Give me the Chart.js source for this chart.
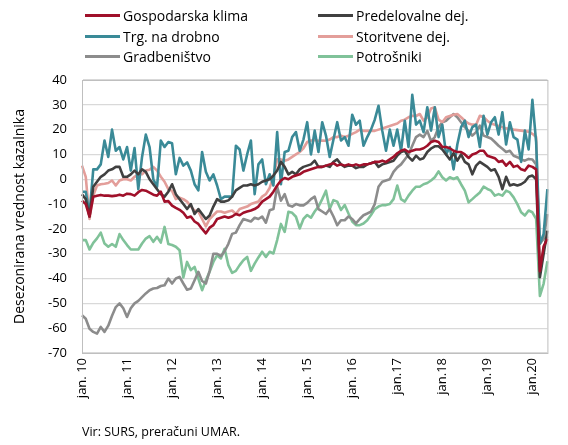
<!DOCTYPE html>
<html>
<head>
<meta charset="utf-8">
<script src="https://cdn.jsdelivr.net/npm/chart.js@4.4.0/dist/chart.umd.min.js"></script>
<style>
  body { margin: 0; background: #fff; }
  #wrap { position: relative; width: 568px; height: 445px; font-family: "Open Sans", sans-serif; }
  #legend { position: absolute; left: 0; top: 0; }
  .item { position: absolute; display: flex; align-items: center; font-size: 14px; color: #000; white-space: nowrap; }
  .swatch { width: 35px; height: 3px; margin-right: 3px; }
  #source { position: absolute; left: 82px; top: 423px; font-size: 12.5px; color: #000; }
</style>
</head>
<body>
<div id="wrap">
  <canvas id="chart" width="568" height="445"></canvas>
  <div id="legend"></div>
  <div id="source">Vir: SURS, preračuni UMAR.</div>
</div>
<script>
// Year labels shown every 12 months on the x axis
const yearLabels = ['jan. 10', 'jan. 11', 'jan. 12', 'jan. 13', 'jan. 14', 'jan. 15', 'jan. 16', 'jan.17', 'jan.18', 'jan.19', 'jan.20'];

// Monthly values, jan 2010 - may 2020
const gospodarskaKlima = [
  -8.6, -10, -15, -7, -6.6, -6.3, -6.6, -6.6, -6.8, -6.6, -6.2, -6.6,
  -5.8, -6, -6.6, -5.2, -4.3, -4.6, -5.4, -6.2, -6.6, -5, -9, -8.8,
  -10.6, -11.5, -12.3, -13.5, -15.5, -15, -17, -18, -20, -21.8, -19.5, -18.5,
  -16, -15.5, -15, -15.5, -15, -14, -14.5, -13.5, -13, -12.6, -12, -11,
  -9, -8, -7, -5, -2.5, -0.5, 0.5, 0, 1, 1.5, 2, 3,
  3.5, 4, 4.5, 5, 5, 5.5, 6, 6.5, 5.5, 6, 5.5, 6,
  5.5, 6, 5.5, 6, 6, 6.5, 7, 7, 7.5, 7, 8, 9,
  10.5, 11.5, 12, 11, 11.5, 12, 12, 12.5, 13.5, 15, 15.5, 15,
  13, 13, 12.5, 11.5, 11, 11, 10, 8.6, 10, 10.5, 11.5, 11.5,
  9.5, 9, 8.5, 7, 7.5, 5.5, 7, 5, 5.5, 4, 3.5, 5.5,
  5, 4, -37, -27, -24
];
const predelovalne = [
  -6, -8, -15, -3, -1, 1, 2, 3.5, 4, 5, 5, 1,
  1, 2, 3.5, 2, 4, 3, 0, -2, -4, -6, -7, -5,
  -2, -6, -8, -10, -12, -10, -14, -12, -14, -16, -14.6, -11,
  -8, -9, -9, -8.5, -7, -4.5, -3.5, -2.5, -2.5, -2, -2.5, -2,
  -1, -0.5, 0, 1.5, 3.5, 7, 5, 2, 3, 2, 4, 5,
  5.5, 6, 7.5, 5, 5, 5.5, 5, 7, 8, 6, 5, 5.5,
  5.5, 4.5, 5, 5, 6, 6.5, 7, 5, 6, 6.5, 7, 7.5,
  9.5, 11, 11.5, 9, 7.5, 9.5, 8, 8.5, 11, 12.4, 13.3, 13.3,
  12, 10, 8, 10.5, 7.5, 10, 7, 6, 2, 5.5, 7, 6,
  5, 3.5, 4, 1, -4, 1, -2.5, -2, -2.5, -2, -1, 1,
  1.5, 0, -39.5, -30, -20.7
];
const trgovina = [
  -5, -5, -14, 4, 4, 6, 15.6, 9, 20, 11.5, 13, 8,
  13, 3.5, 12.6, -4, 9, 18, 13, 0, -3, 15.6, 13, 15,
  14.5, 2, 8.6, 5.5, 6.8, 3.5, -2, -4.5, 11, 3, -0.5, 2,
  -2.5, -8, -7, -7, -7, 13.5, 12, 3.5, 10, 15.6, -6, 6,
  8, -2, 2, -2.5, 19, -2, 11, 11.5, 17, 19, 11.5, 16,
  23, 10, 19.6, 11, 23, 17.6, 9, 16, 23, 15.6, 17, 13.5,
  26, 22, 23.6, 13.5, 17, 20, 24, 29.6, 19.6, 11.5, 20, 13.5,
  20, 11.5, 23.6, 13, 34, 22, 23.6, 19, 29, 19.6, 29, 17,
  22, 10, 13, 4, 14, 21, 23.6, 17, 21, 22, 13, 25.6,
  18, 23, 25, 18, 27, 14, 23, 17, 16, 7, 19.6, 12,
  32, 15, -26, -22, -4
];
const storitvene = [
  5.5, 1, -16, -6.6, -2.5, -2, -1.8, -1.5, -0.5, -2.5, -0.5, 0,
  0, -0.5, 1, 2, 2, 3.5, 3.8, 5, 3.5, 1, -1, -4,
  -4.7, -8, -7.4, -8, -9, -11, -12.6, -13, -16, -19, -16, -14.5,
  -13, -13, -13.5, -13, -12.6, -14, -12, -11.5, -11, -10, -9.5, -9,
  -7, -6, -3.5, 1, 8, 8, 7.5, 8, 9, 10, 11, 12.5,
  15, 15.6, 15.8, 15.5, 15.6, 15.5, 16, 17, 17, 17.6, 17, 17.5,
  18.3, 19, 20, 19.5, 19.5, 19.5, 19.5, 20, 20.5, 21, 21.5, 22,
  22.5, 23.6, 24, 25, 25.6, 25.5, 26.3, 23.6, 25, 28.5, 29, 24,
  23, 25, 25.5, 26, 26.3, 25, 23.6, 22.5, 22, 22, 25.6, 25,
  23.6, 22.5, 22, 21.5, 21, 20.5, 20.3, 20, 19.8, 19.6, 19.4, 19.2,
  18.3, 17, -38, -28, -23
];
const gradbenistvo = [
  -54.8, -56.2, -60.2, -61.5, -62.2, -59.5, -61.5, -59, -55, -51.5, -50, -52,
  -55.5, -52, -50, -49, -47.5, -46, -44.7, -44, -43.8, -43, -42.7, -40,
  -42, -40, -39.3, -42, -44.5, -44, -40.7, -37.3, -41, -42, -37, -30,
  -30, -31, -29, -26, -22, -21.5, -18.5, -16, -16.5, -17, -15.5, -16,
  -15, -17.5, -12.5, -12, -3, -8.6, -6, -10.5, -11, -10, -10.5, -10.5,
  -9.5, -8, -7, -12, -13, -14, -12, -15, -18.5, -16.5, -16.5, -15,
  -16, -17.8, -16, -14.5, -13.8, -13, -10, -3, -1, -0.5, 0, 3,
  4.8, 6, 8, 10, 13.5, 17, 18, 17, 19.5, 15.4, 17, 21,
  23, 23.6, 25, 26.3, 25, 23, 21, 19.5, 17.6, 19, 21.6, 17.6,
  17, 16.4, 15, 13.5, 12.3, 11, 11.5, 9.5, 8.9, 8, 7.5, 8.2,
  8, 6, -26, -24, -14
];
const potrosniki = [
  -24.5, -24.5, -28.3, -25.6, -23.8, -21.5, -25.9, -27.2, -26.1, -27.2, -22.1, -24.5,
  -26.5, -28.3, -28.3, -28.3, -25.9, -23.9, -22.9, -25.2, -23.2, -25.5, -19.2, -26.1,
  -26.5, -27.2, -28.6, -39.6, -33.3, -36.6, -35.3, -40, -44.7, -40.7, -37.3, -33.3,
  -30.6, -31.9, -28, -34.6, -37.7, -36.9, -34.6, -32.6, -31.3, -36.9, -34, -31.5,
  -29.2, -31.3, -29.2, -29.9, -24.5, -18, -21.2, -13.1, -13.5, -15.1, -19.8, -16,
  -14.4, -15.5, -13, -11, -8, -4.6, -12, -8.4, -9, -12.4, -10.4, -13.8,
  -17, -18.5, -18.5, -17.8, -16.5, -14.4, -12, -11, -10.4, -10.4, -10, -8,
  -2.5, -8, -9, -6.6, -4.6, -3, -3, -2, -1.5, -0.5, 0.8, 3.2,
  0.8, -0.5, 0.8, 0.1, 0.8, -2, -4.6, -9.3, -8, -6.6, -5.3, -3,
  -3.9, -4.6, -6.6, -6, -6.6, -4.6, -5.3, -7.3, -10, -13.3, -14.6, -12.6,
  -13.3, -16, -47, -42, -33
];

const seriesNames = ['Gospodarska klima', 'Predelovalne dej.', 'Trg. na drobno', 'Storitvene dej.', 'Gradbeništvo', 'Potrošniki'];
const seriesColors = ['#a0102a', '#404040', '#3a8a97', '#e39e9a', '#8c8c8c', '#80c299'];
const seriesData = [gospodarskaKlima, predelovalne, trgovina, storitvene, gradbenistvo, potrosniki];

// one category per month, label only on januaries
const categories = gospodarskaKlima.map((v, i) => (i % 12 === 0 ? yearLabels[i / 12] : ''));

// Draw a thin frame around the plot area
const frame = {
  id: 'frame',
  afterDraw(chart) {
    const a = chart.chartArea;
    const ctx = chart.ctx;
    ctx.save();
    ctx.strokeStyle = '#bfbfbf';
    ctx.lineWidth = 1;
    ctx.strokeRect(a.left + 0.5, a.top + 0.5, a.right - a.left, a.bottom - a.top);
    ctx.restore();
  }
};

const ctx = document.getElementById('chart').getContext('2d');
new Chart(ctx, {
  type: 'line',
  data: {
    labels: categories,
    datasets: seriesNames.map((name, k) => ({
      label: name,
      data: seriesData[k],
      borderColor: seriesColors[k],
      backgroundColor: seriesColors[k],
      borderWidth: 2.6,
      pointRadius: 0,
      tension: 0,
      borderJoinStyle: 'round',
      fill: false
    }))
  },
  options: {
    responsive: false,
    animation: false,
    layout: { padding: { top: 80, right: 4, left: 0, bottom: 0 } },
    plugins: { legend: { display: false }, tooltip: { enabled: false } },
    scales: {
      x: {
        grid: { display: false, drawTicks: false },
        border: { display: true, color: '#bfbfbf' },
        ticks: {
          autoSkip: false,
          minRotation: 90,
          maxRotation: 90,
          padding: 5,
          color: '#000',
          font: { family: 'Open Sans', size: 13 },
          callback: (v, i) => categories[i]
        },
        afterFit: (scale) => { scale.height = 92; }
      },
      y: {
        min: -70,
        max: 40,
        ticks: { stepSize: 10, padding: 15, color: '#000', font: { family: 'Open Sans', size: 13 } },
        grid: { color: '#d9d9d9', lineWidth: 1.3, drawTicks: false },
        border: { display: true, color: '#bfbfbf' },
        title: {
          display: true,
          text: 'Desezonirana vrednost kazalnika',
          color: '#000',
          font: { family: 'Open Sans', size: 14 },
          padding: { top: 12, bottom: 0 }
        },
        afterFit: (scale) => { scale.width = 82; }
      }
    }
  },
  plugins: [frame]
});

// HTML legend, two columns, three rows
const legend = document.getElementById('legend');
const colX = [85, 318];
const rowY = [16, 37, 57];
seriesNames.forEach((name, k) => {
  const item = document.createElement('div');
  item.className = 'item';
  item.style.left = colX[k % 2] + 'px';
  item.style.top = (rowY[Math.floor(k / 2)] - 10) + 'px';
  item.innerHTML = '<span class="swatch" style="background:' + seriesColors[k] + '"></span>' + name;
  legend.appendChild(item);
});
</script>
</body>
</html>
